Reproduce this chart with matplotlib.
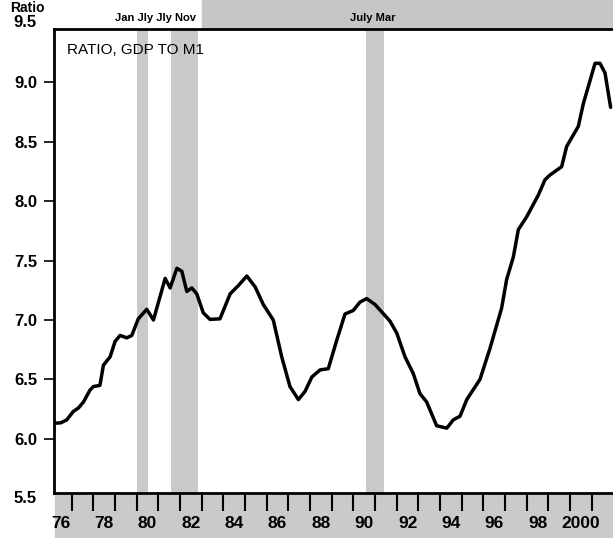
import matplotlib.pyplot as plt
import matplotlib.transforms as mtransforms
from matplotlib.patches import Rectangle

# GDP / M1 ratio (year, ratio)
dates = [1976.15, 1976.5, 1976.77, 1977.07, 1977.31, 1977.54, 1977.84, 1978.0,
         1978.3, 1978.46, 1978.77, 1979.0, 1979.23, 1979.54, 1979.77, 1980.07,
         1980.46, 1980.77, 1981.31, 1981.54, 1981.85, 1982.08, 1982.31, 1982.54,
         1982.77, 1983.07, 1983.38, 1983.84, 1984.31, 1984.69, 1985.08, 1985.46,
         1985.84, 1986.3, 1986.69, 1987.07, 1987.46, 1987.77, 1988.08, 1988.46,
         1988.84, 1989.23, 1989.61, 1989.99, 1990.3, 1990.61, 1991.0, 1991.69,
         1992.0, 1992.38, 1992.76, 1993.07, 1993.38, 1993.84, 1994.31, 1994.61,
         1994.92, 1995.23, 1995.84, 1996.3, 1996.84, 1997.07, 1997.38, 1997.61,
         1998.0, 1998.53, 1998.84, 1999.07, 1999.61, 1999.84, 2000.38, 2000.61,
         2001.15, 2001.38, 2001.61, 2001.87]
ratio = [6.13, 6.135, 6.16, 6.23, 6.26, 6.31, 6.41, 6.44,
         6.45, 6.62, 6.69, 6.82, 6.87, 6.85, 6.87, 7.01,
         7.09, 7.0, 7.35, 7.27, 7.435, 7.41, 7.24, 7.27,
         7.22, 7.06, 7.005, 7.01, 7.22, 7.29, 7.37, 7.28,
         7.13, 7.0, 6.69, 6.44, 6.33, 6.4, 6.52, 6.58,
         6.59, 6.83, 7.05, 7.08, 7.15, 7.18, 7.13, 6.99,
         6.89, 6.69, 6.55, 6.38, 6.31, 6.11, 6.09, 6.16,
         6.19, 6.33, 6.5, 6.76, 7.1, 7.34, 7.53, 7.76,
         7.87, 8.05, 8.18, 8.22, 8.29, 8.46, 8.63, 8.82,
         9.16, 9.16, 9.08, 8.79]

# recession shading (start, end) as drawn, and the month labels above
recessions = [(1980.0, 1980.5), (1981.58, 1982.83), (1990.6, 1991.4)]
recession_labels = [("Jan Jly Jly Nov", 1980.85), ("July Mar", 1990.9)]

year_ticks = list(range(1977, 2002))
label_years = list(range(1976, 2001, 2))
year_labels = ["76", "78", "80", "82", "84", "86", "88", "90", "92", "94",
               "96", "98", "2000"]
y_ticks = [6.0, 6.5, 7.0, 7.5, 8.0, 8.5, 9.0]
y_labels = ["6.0", "6.5", "7.0", "7.5", "8.0", "8.5", "9.0"]

plt.rcParams['font.family'] = ['Liberation Sans', 'DejaVu Sans']

fig = plt.figure(figsize=(6.13, 5.38), dpi=100)
fig.patch.set_facecolor('white')

# scanned-paper grey strips behind the axis labels
fig.patches.append(Rectangle((0.09, 0.0), 0.91, 0.08, transform=fig.transFigure,
                             color='#cacaca', zorder=-10))
fig.patches.append(Rectangle((0.33, 0.948), 0.67, 0.052, transform=fig.transFigure,
                             color='#c6c6c6', zorder=-10))

ax = fig.add_axes([54 / 613, 1 - 493 / 538, 1 - 54 / 613, (493 - 29) / 538])
ax.set_facecolor('white')

for start, end in recessions:
    ax.axvspan(start, end, color='#c9c9c9', lw=0, zorder=1)

ax.plot(dates, ratio, color='black', lw=2.5, solid_joinstyle='round',
        solid_capstyle='round', zorder=3)

ax.set_xlim(1976.18, 2001.98)
ax.set_ylim(5.544, 9.449)

for side in ['left', 'bottom', 'top']:
    ax.spines[side].set_linewidth(2.0)
ax.spines['right'].set_visible(False)

ax.set_xticks(year_ticks)
ax.set_xticklabels([])
ax.set_xticks([y + 0.5 for y in label_years], minor=True)
ax.set_xticklabels(year_labels, minor=True, fontsize=12.5, fontweight='bold')
ax.tick_params(axis='x', which='major', direction='out', length=13, width=1.5)
ax.tick_params(axis='x', which='minor', length=0, pad=16.5)

ax.set_yticks(y_ticks)
ax.set_yticklabels(y_labels, fontsize=12, fontweight='bold')
ax.tick_params(axis='y', direction='out', length=7, width=1.2, pad=5)

# end labels sit outside the frame
trans = mtransforms.blended_transform_factory(ax.transAxes, ax.transData)
for v in [9.5, 5.5]:
    ax.text(-0.031, v, f"{v:.1f}", transform=trans, ha='right', va='center',
            fontsize=12, fontweight='bold', clip_on=False)

trans_top = mtransforms.blended_transform_factory(ax.transData, ax.transAxes)
for text, xpos in recession_labels:
    ax.text(xpos, 1.013, text, transform=trans_top, ha='center', va='bottom',
            fontsize=8, fontweight='bold', clip_on=False)

ax.text(0.024, 0.955, "RATIO, GDP TO M1", transform=ax.transAxes,
        ha='left', va='center', fontsize=11)

fig.text(10 / 613, 0.998, "Ratio", ha='left', va='top',
         fontsize=10, fontweight='bold')

fig.savefig('out.png', dpi=100)
